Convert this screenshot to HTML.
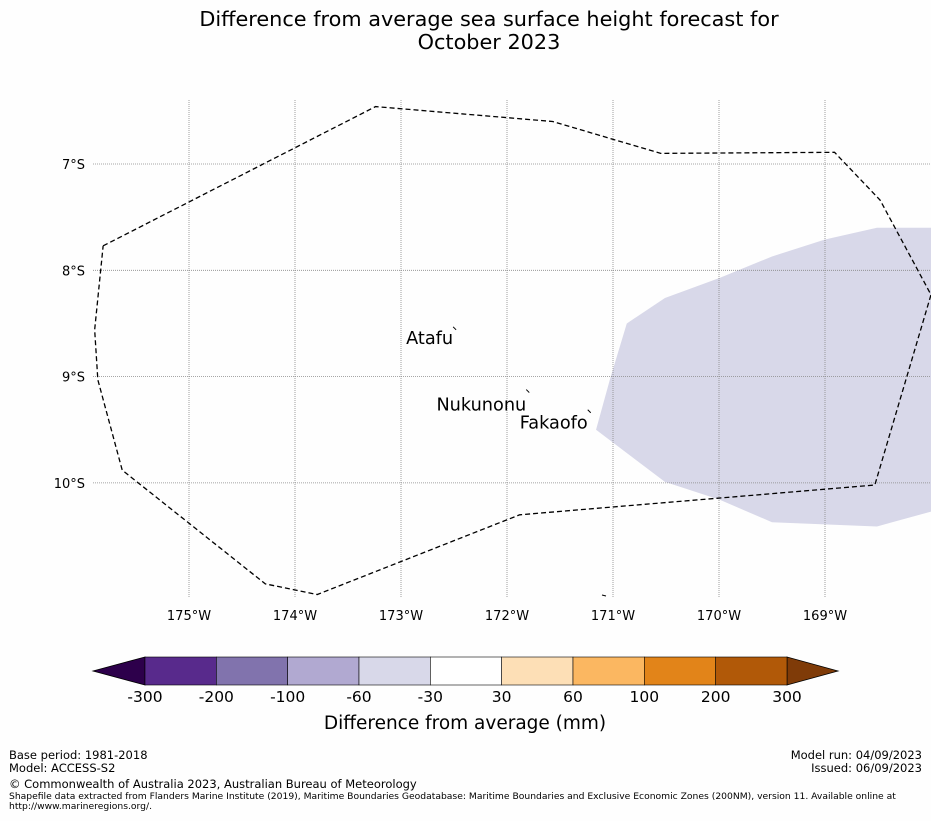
<!DOCTYPE html>
<html><head><meta charset="utf-8"><style>
body{margin:0;background:#fefefe;width:931px;height:816px;overflow:hidden;font-family:"Liberation Sans","DejaVu Sans",sans-serif}
svg text{font-family:"DejaVu Sans","Liberation Sans",sans-serif}
</style></head><body>
<svg id="chart" width="931" height="816" xmlns="http://www.w3.org/2000/svg">
<text x="489" y="26" text-anchor="middle" font-size="20.8">Difference from average sea surface height forecast for</text>
<text x="489" y="49" text-anchor="middle" font-size="20.8">October 2023</text>
<g id="map"></g>
<g id="cbar"></g>
<text x="465" y="729" text-anchor="middle" font-size="18.5">Difference from average (mm)</text>
<g font-size="11.5">
<text x="9" y="759">Base period: 1981-2018</text>
<text x="9" y="772">Model: ACCESS-S2</text>
<text x="922" y="759" text-anchor="end">Model run: 04/09/2023</text>
<text x="922" y="772" text-anchor="end">Issued: 06/09/2023</text>
<text x="9" y="788">© Commonwealth of Australia 2023, Australian Bureau of Meteorology</text>
<text x="9" y="799" font-size="9.2">Shapefile data extracted from Flanders Marine Institute (2019), Maritime Boundaries Geodatabase: Maritime Boundaries and Exclusive Economic Zones (200NM), version 11. Available online at</text>
<text x="9" y="809" font-size="9.2">http://www.marineregions.org/.</text>
</g>
</svg>
<script>
const lonTicks=[-175,-174,-173,-172,-171,-170,-169];
const latTicks=[-7,-8,-9,-10];
const eezLon=[-175.81,-173.24,-171.57,-170.55,-168.91,-168.48,-168.0,-168.53,-171.88,-173.79,-174.28,-175.63,-175.86,-175.89,-175.81];
const eezLat=[-7.77,-6.46,-6.60,-6.90,-6.89,-7.34,-8.23,-10.02,-10.30,-11.05,-10.95,-9.88,-9.03,-8.56,-7.77];
const shadeLon=[-170.87,-170.51,-169.99,-169.50,-169.0,-168.51,-168.0,-168.0,-168.51,-169.50,-169.99,-170.51,-171.16,-171.03];
const shadeLat=[-8.50,-8.26,-8.07,-7.87,-7.71,-7.60,-7.60,-10.27,-10.41,-10.37,-10.16,-9.99,-9.50,-9.03];
const islandNames=["Atafu","Nukunonu","Fakaofo"];
const islandLon=[-172.48,-171.79,-171.21];
const islandLat=[-8.56,-9.15,-9.34];
const labelDy=[14,18,16];
const cbarLabels=["-300","-200","-100","-60","-30","30","60","100","200","300"];
const cbarColors=["#582a8c","#8173ad","#b1a9d1","#d8d8e9","#ffffff","#fddfb6","#fbb761","#e28419","#b15908"];
const NS="http://www.w3.org/2000/svg";
const X0=93,X1=931,Y0=100,Y1=598;
const xs=lon=>189+(lon+175)*106;
const ys=lat=>164+(-lat-7)*106.3;
function mk(t,a,p){const e=document.createElementNS(NS,t);for(const k in a)e.setAttribute(k,a[k]);p.appendChild(e);return e;}
const map=document.getElementById('map');
let sp=shadeLon.map((l,i)=>xs(l)+','+ys(shadeLat[i])).join(' ');
const sh=mk('polygon',{points:sp,fill:'#d8d8e9'},map);


lonTicks.forEach(l=>{const x=xs(l);
 const g=mk('line',{x1:x,x2:x,y1:Y0,y2:Y1,stroke:'#888','stroke-width':0.8,'stroke-dasharray':'1,1'},map);
 
 const t=mk('text',{x:x,y:620,'text-anchor':'middle','font-size':13},map);t.textContent=(-l)+'°W';
 });
latTicks.forEach(l=>{const y=ys(l);
 const g=mk('line',{x1:X0,x2:X1,y1:y,y2:y,stroke:'#888','stroke-width':0.8,'stroke-dasharray':'1,1'},map);
 
 const t=mk('text',{x:85,y:y+5,'text-anchor':'end','font-size':13},map);t.textContent=(-l)+'°S';
 });
let ep=eezLon.map((l,i)=>xs(l)+','+ys(eezLat[i])).join(' ');
const ez=mk('polyline',{points:ep,fill:'none',stroke:'#000','stroke-width':1.3,'stroke-dasharray':'5,3'},map);

islandNames.forEach((n,i)=>{const x=xs(islandLon[i]),y=ys(islandLat[i]);
 const m=mk('line',{x1:x-3,y1:y-3,x2:x,y2:y,stroke:'#000','stroke-width':1},map);
 
 const t=mk('text',{x:x-3,y:y+labelDy[i],'text-anchor':'end','font-size':17.7},map);t.textContent=n;
 });
const sm=mk('line',{x1:602,y1:595,x2:606,y2:596,stroke:'#000','stroke-width':1},map);

const cb=document.getElementById('cbar');
const bx0=145,bx1=787,by=657,bh=28,bw=(bx1-bx0)/cbarColors.length;
const lt=mk('polygon',{points:`${93},${by+bh/2} ${bx0},${by} ${bx0},${by+bh}`,fill:'#2d004b',stroke:'#000','stroke-width':0.8},cb);

const rt=mk('polygon',{points:`${838},${by+bh/2} ${bx1},${by} ${bx1},${by+bh}`,fill:'#7f3b08',stroke:'#000','stroke-width':0.8},cb);

cbarColors.forEach((c,i)=>{const r=mk('rect',{x:bx0+i*bw,y:by,width:bw,height:bh,fill:c,stroke:'#000','stroke-width':0.6},cb);
 });
cbarLabels.forEach((s,i)=>{const t=mk('text',{x:bx0+i*bw,y:702,'text-anchor':'middle','font-size':15.5},cb);t.textContent=s;
 });
</script>
</body></html>
